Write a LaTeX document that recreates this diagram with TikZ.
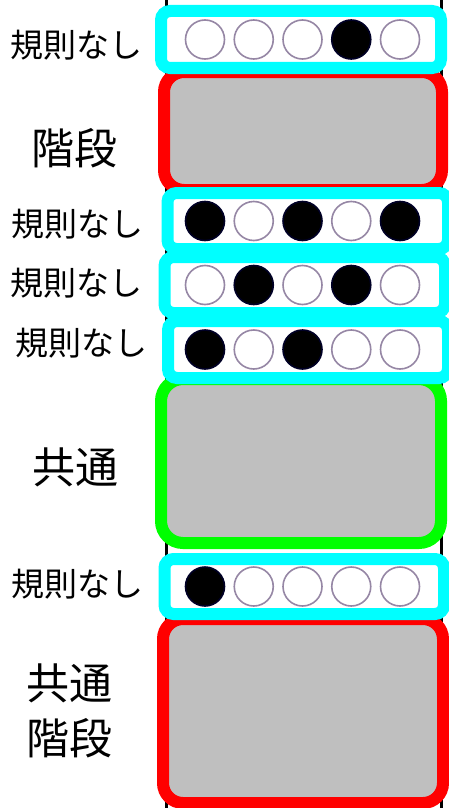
\documentclass[tikz,border=0pt]{standalone}
\usepackage{fontspec}
\setmainfont{Noto Sans CJK JP}
\definecolor{cyanc}{RGB}{0,255,255}
\definecolor{redc}{RGB}{255,0,0}
\definecolor{greenc}{RGB}{0,255,0}
\definecolor{grayc}{RGB}{191,191,191}
\definecolor{ringc}{RGB}{150,135,165}
\begin{document}
\begin{tikzpicture}[x=1pt,y=-1pt,
  rowbox/.style={draw=cyanc, line width=12pt, fill=white, rounded corners=9pt, inner sep=0pt, rectangle},
  bigbox/.style={line width=12pt, fill=grayc, rounded corners=20pt, inner sep=0pt, rectangle},
  stone/.style={circle, minimum size=39pt, inner sep=0pt, line width=1.6pt},
  blackstone/.style={stone, fill=black, draw=black!85!blue},
  whitestone/.style={stone, fill=white, draw=ringc},
  lab/.style={font=\fontsize{33}{33}\selectfont, inner sep=0pt},
  biglab/.style={font=\fontsize{43}{43}\selectfont, inner sep=0pt}]
\useasboundingbox (0,0) rectangle (448,808);
\fill[white] (0,0) rectangle (448,808);
% strip borders
\coordinate (s1t) at (166.5,0); \coordinate (s1b) at (166.5,808);
\coordinate (s2t) at (441.5,0); \coordinate (s2b) at (441.5,808);
\draw[line width=2.5pt] (s1t) -- (s1b);
\draw[line width=2.5pt] (s2t) -- (s2b);
% big boxes
\node[bigbox, draw=redc, minimum width=278pt, minimum height=118pt] (r1) at (303,131) {};
\node[bigbox, draw=greenc, rounded corners=22pt, minimum width=280pt, minimum height=164pt] (g1) at (301,461) {};
\node[bigbox, draw=redc, minimum width=280pt, minimum height=184pt] (r2) at (303,711) {};
% row boxes
\node[rowbox, minimum width=280pt, minimum height=57pt] (b1) at (301,39.5) {};
\node[rowbox, minimum width=280.5pt, minimum height=56pt] (b2) at (307.75,221) {};
\node[rowbox, minimum width=280.5pt, minimum height=56pt] (b3) at (304.75,285) {};
\node[rowbox, minimum width=280pt, minimum height=57pt] (b4) at (308,349.5) {};
\node[rowbox, minimum width=279.5pt, minimum height=55pt] (b5) at (304.25,586.5) {};
% stones
\foreach \r/\yy/\pat in {1/39.5/{0,0,0,1,0}, 2/221/{1,0,1,0,1}, 3/285/{0,1,0,1,0}, 4/349.5/{1,0,1,0,0}, 5/586.5/{1,0,0,0,0}}{
  \foreach \v [count=\i] in \pat {
    \ifnum\v=1
      \node[blackstone] (c\r-\i) at ({205+48.75*(\i-1)},\yy) {};
    \else
      \node[whitestone] (c\r-\i) at ({205+48.75*(\i-1)},\yy) {};
    \fi
  }
}
% labels
\node[lab] (l1) at (76,45) {規則なし};
\node[biglab] (l2) at (74,148) {階段};
\node[lab] (l3) at (78,224) {規則なし};
\node[lab] (l4) at (76,283) {規則なし};
\node[lab] (l5) at (82,343) {規則なし};
\node[biglab] (l6) at (75,467) {共通};
\node[lab] (l7) at (77,584) {規則なし};
\node[biglab] (l8) at (69,683) {共通};
\node[biglab] (l9) at (69,738) {階段};
\end{tikzpicture}
\end{document}
